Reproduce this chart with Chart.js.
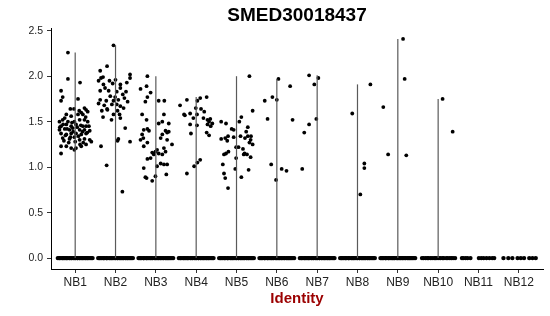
<!DOCTYPE html>
<html>
<head>
<meta charset="utf-8">
<script src="https://cdn.jsdelivr.net/npm/chart.js@4.4.1/dist/chart.umd.min.js"></script>
<style>
  html, body { margin: 0; padding: 0; background: #fff; }
</style>
</head>
<body>
<canvas id="chart" width="550" height="316"></canvas>
<script>
const chartTitle = "SMED30018437";
const axisTitle = "Identity";
const categories = ["NB1", "NB2", "NB3", "NB4", "NB5", "NB6", "NB7", "NB8", "NB9", "NB10", "NB11", "NB12"];
const yTicks = [0, 0.5, 1.0, 1.5, 2.0, 2.5];

// non-zero cells: [jitter offset, expression]
const nb1 = [
  [-0.18, 2.26], [-0.18, 1.97], [0.12, 1.93], [-0.35, 1.84], [-0.31, 1.77], [-0.35, 1.73], [0.07, 1.75],
  [-0.12, 1.64], [-0.03, 1.64], [0.23, 1.65], [0.27, 1.63], [0.31, 1.61], [0.15, 1.60], [0.07, 1.58],
  [0.19, 1.58], [-0.22, 1.58], [-0.26, 1.54], [-0.10, 1.56], [-0.39, 1.50], [-0.31, 1.52], [-0.18, 1.50],
  [-0.02, 1.50], [0.11, 1.52], [0.23, 1.52], [0.31, 1.50], [-0.35, 1.45], [-0.22, 1.47], [-0.10, 1.45],
  [0.02, 1.47], [0.19, 1.45], [0.27, 1.45], [-0.39, 1.41], [-0.26, 1.42], [-0.14, 1.41], [-0.06, 1.43],
  [0.11, 1.41], [0.23, 1.41], [0.36, 1.40], [-0.35, 1.37], [-0.22, 1.36], [-0.10, 1.37], [0.02, 1.37],
  [0.15, 1.36], [0.27, 1.37], [-0.31, 1.32], [-0.14, 1.31], [-0.02, 1.33], [0.11, 1.30], [0.23, 1.31],
  [0.36, 1.30], [0.40, 1.28], [-0.35, 1.23], [-0.22, 1.23], [-0.10, 1.21], [0.02, 1.21], [0.15, 1.23],
  [0.27, 1.25], [-0.35, 1.15], [-0.02, 1.19], [-0.30, 1.47], [-0.05, 1.39], [0.05, 1.44], [0.14, 1.46],
  [0.30, 1.38], [-0.20, 1.42], [-0.12, 1.33], [0.08, 1.34], [0.20, 1.27], [-0.28, 1.29], [0.34, 1.45],
  [-0.38, 1.44], [0.00, 1.28], [-0.16, 1.27], [0.26, 1.55], [0.10, 1.62], [-0.08, 1.49], [0.18, 1.39],
  [-0.24, 1.35], [0.12, 1.25]
];
const nb2 = [
  [-0.05, 2.34], [-0.21, 2.11], [-0.38, 2.06], [-0.36, 1.98], [-0.31, 1.99], [0.36, 2.02], [0.36, 1.98],
  [0.00, 1.96], [-0.42, 1.95], [-0.30, 1.91], [0.12, 1.91], [0.28, 1.93], [-0.26, 1.87], [-0.07, 1.92],
  [-0.38, 1.84], [-0.17, 1.84], [0.12, 1.87], [0.26, 1.83], [0.03, 1.83], [-0.13, 1.78], [-0.38, 1.74],
  [-0.23, 1.73], [-0.05, 1.73], [0.07, 1.74], [-0.01, 1.77], [-0.42, 1.70], [-0.09, 1.69], [0.03, 1.69],
  [0.12, 1.67], [-0.21, 1.64], [-0.34, 1.62], [-0.20, 1.63], [-0.05, 1.58], [0.10, 1.58], [-0.31, 1.55],
  [0.12, 1.54], [0.24, 1.43], [0.07, 1.31], [0.05, 1.29], [0.36, 1.28], [-0.36, 1.23], [-0.22, 1.02],
  [0.17, 0.73], [0.18, 1.80], [0.22, 1.76], [-0.15, 1.95], [0.30, 1.72], [0.05, 1.62], [-0.28, 1.68],
  [0.20, 1.65], [-0.10, 1.52]
];
const nb3 = [
  [-0.21, 2.00], [-0.23, 1.89], [-0.38, 1.86], [-0.13, 1.82], [-0.21, 1.77], [-0.26, 1.72], [0.07, 1.73],
  [0.21, 1.73], [-0.34, 1.58], [0.20, 1.58], [-0.23, 1.52], [0.07, 1.48], [0.16, 1.50], [0.32, 1.48],
  [-0.30, 1.41], [-0.21, 1.42], [-0.17, 1.40], [-0.34, 1.36], [-0.38, 1.30], [-0.31, 1.32], [0.24, 1.40],
  [0.28, 1.38], [0.32, 1.39], [0.16, 1.36], [0.12, 1.32], [0.28, 1.30], [-0.21, 1.27], [0.40, 1.25],
  [-0.30, 1.23], [0.20, 1.21], [0.03, 1.19], [-0.09, 1.16], [-0.01, 1.17], [0.07, 1.15], [-0.05, 1.14],
  [0.16, 1.14], [0.24, 1.17], [-0.21, 1.09], [-0.13, 1.10], [0.12, 1.04], [0.28, 1.03], [0.20, 1.03],
  [-0.30, 0.99], [0.03, 1.01], [0.26, 0.92], [-0.26, 0.89], [-0.23, 0.88], [-0.01, 0.90], [-0.09, 0.85]
];
const nb4 = [
  [-0.23, 1.74], [-0.40, 1.68], [0.03, 1.73], [0.10, 1.76], [0.26, 1.77], [-0.01, 1.65], [0.12, 1.64],
  [-0.30, 1.58], [-0.28, 1.57], [-0.15, 1.59], [-0.07, 1.54], [0.02, 1.58], [0.20, 1.61], [0.18, 1.54],
  [0.28, 1.52], [0.35, 1.53], [0.32, 1.50], [0.40, 1.48], [0.28, 1.47], [0.36, 1.45], [-0.15, 1.47],
  [0.02, 1.46], [0.26, 1.38], [0.32, 1.35], [-0.13, 1.37], [0.10, 1.08], [0.03, 1.05], [-0.05, 1.01],
  [-0.23, 0.93]
];
const nb5 = [
  [0.32, 2.00], [0.40, 1.62], [0.12, 1.55], [0.07, 1.50], [-0.38, 1.50], [-0.26, 1.48], [-0.12, 1.42],
  [-0.07, 1.41], [0.28, 1.44], [0.24, 1.39], [-0.21, 1.34], [-0.28, 1.32], [-0.38, 1.31], [-0.23, 1.29],
  [-0.07, 1.33], [0.10, 1.34], [0.21, 1.32], [0.28, 1.34], [0.36, 1.34], [0.35, 1.30], [0.40, 1.25],
  [0.32, 1.27], [-0.20, 1.17], [-0.26, 1.15], [-0.31, 1.14], [-0.01, 1.22], [0.05, 1.22], [0.16, 1.20],
  [0.20, 1.15], [0.18, 1.14], [0.26, 1.14], [0.35, 1.11], [-0.01, 1.10], [-0.03, 0.98], [0.30, 0.97],
  [-0.31, 0.93], [-0.28, 0.88], [0.12, 0.89], [-0.21, 0.77], [-0.34, 1.03]
];
const nb6 = [
  [0.04, 1.97], [0.33, 1.89], [-0.11, 1.77], [-0.30, 1.73], [0.00, 1.74], [-0.23, 1.53], [0.39, 1.52],
  [-0.14, 1.03], [0.12, 0.98], [0.24, 0.96], [-0.02, 0.86]
];
const nb7 = [[-0.20, 2.01], [0.03, 1.98], [-0.07, 1.91], [-0.02, 1.53], [-0.20, 1.47], [-0.32, 1.38], [-0.37, 0.98]];
const nb8 = [[0.32, 1.91], [-0.13, 1.59], [0.17, 1.04], [0.17, 0.99], [0.07, 0.70]];
const nb9 = [[-0.36, 1.66], [0.13, 2.41], [0.17, 1.97], [-0.24, 1.14], [0.21, 1.13]];
const nb10 = [[0.11, 1.75], [0.36, 1.39]];
const nb11 = [];
const nb12 = [];

// jitter offsets of the cells at zero
const zeroDense = [-0.43, -0.40, -0.38, -0.35, -0.31, -0.30, -0.27, -0.23, -0.22, -0.19, -0.15, -0.13, -0.10, -0.08,
  -0.04, -0.01, 0.01, 0.05, 0.06, 0.10, 0.12, 0.15, 0.18, 0.20, 0.24, 0.26, 0.29, 0.31, 0.34, 0.37, 0.40, 0.43];
const zeroNB10 = [-0.40, -0.36, -0.31, -0.27, -0.24, -0.19, -0.15, -0.10, -0.07, -0.03, 0.02, 0.06, 0.11, 0.14,
  0.20, 0.24, 0.29, 0.33, 0.37, 0.42];
const zeroNB11 = [-0.41, -0.38, -0.32, -0.27, -0.20, 0.01, 0.07, 0.13, 0.20, 0.27, 0.34, 0.39];
const zeroNB12 = [-0.38, -0.26, -0.16, -0.03, 0.05, 0.13, 0.26, 0.34, 0.42];

const groups = [nb1, nb2, nb3, nb4, nb5, nb6, nb7, nb8, nb9, nb10, nb11, nb12];
const zeros = [zeroDense, zeroDense, zeroDense, zeroDense, zeroDense, zeroDense, zeroDense, zeroDense, zeroDense,
  zeroNB10, zeroNB11, zeroNB12];

const fontFamily = "'Liberation Sans', Arial, Helvetica, sans-serif";

const points = [];
groups.forEach((g, i) => {
  zeros[i].forEach(dx => points.push({ x: i + 1 + dx, y: 0 }));
  g.forEach(([dx, v]) => points.push({ x: i + 1 + dx, y: v }));
});

// thin violins: from 0 to the max of each group
const violins = [];
groups.forEach((g, i) => {
  if (!g.length) return;
  const top = Math.max(...g.map(p => p[1]));
  violins.push({
    data: [{ x: i + 1, y: 0 }, { x: i + 1, y: top }],
    showLine: true,
    borderColor: "#5a5a5a",
    borderWidth: 1.2,
    pointRadius: 0
  });
});

const textPlugin = {
  id: "texts",
  afterDraw(chart) {
    const { ctx, chartArea } = chart;
    const cx = (chartArea.left + chartArea.right) / 2;
    ctx.save();
    ctx.textAlign = "center";
    ctx.textBaseline = "alphabetic";
    ctx.fillStyle = "#000";
    ctx.font = "bold 19px " + fontFamily;
    ctx.fillText(chartTitle, cx, 21);
    ctx.fillStyle = "#9b0000";
    ctx.font = "bold 15px " + fontFamily;
    ctx.fillText(axisTitle, cx, 303);
    ctx.restore();
  }
};

new Chart(document.getElementById("chart"), {
  type: "scatter",
  data: {
    datasets: [
      ...violins,
      {
        data: points,
        pointRadius: c => (c.raw && c.raw.y === 0 ? 2.2 : 1.9),
        pointBackgroundColor: "#000",
        pointBorderWidth: 0
      }
    ]
  },
  options: {
    responsive: false,
    animation: false,
    layout: { padding: { top: 28, right: 7, left: 0, bottom: 0 } },
    plugins: { legend: { display: false }, tooltip: { enabled: false } },
    scales: {
      x: {
        type: "linear",
        min: 0.4,
        max: 12.6,
        afterBuildTicks: s => { s.ticks = categories.map((c, i) => ({ value: i + 1 })); },
        afterFit: s => { s.height = 47; },
        ticks: {
          callback: v => categories[v - 1] || "",
          font: { family: fontFamily, size: 12 },
          color: "#222",
          padding: 2,
          maxRotation: 0,
          autoSkip: false
        },
        grid: { drawOnChartArea: false, tickLength: 4, color: "#333" },
        border: { color: "#000", width: 1 }
      },
      y: {
        min: -0.12,
        max: 2.53,
        afterBuildTicks: s => { s.ticks = yTicks.map(v => ({ value: v })); },
        afterFit: s => { s.width = 51; },
        ticks: {
          callback: v => v.toFixed(1),
          font: { family: fontFamily, size: 10.5 },
          color: "#222",
          padding: 4
        },
        grid: { drawOnChartArea: false, tickLength: 4, color: "#333" },
        border: { color: "#000", width: 1 }
      }
    }
  },
  plugins: [textPlugin]
});
</script>
</body>
</html>
